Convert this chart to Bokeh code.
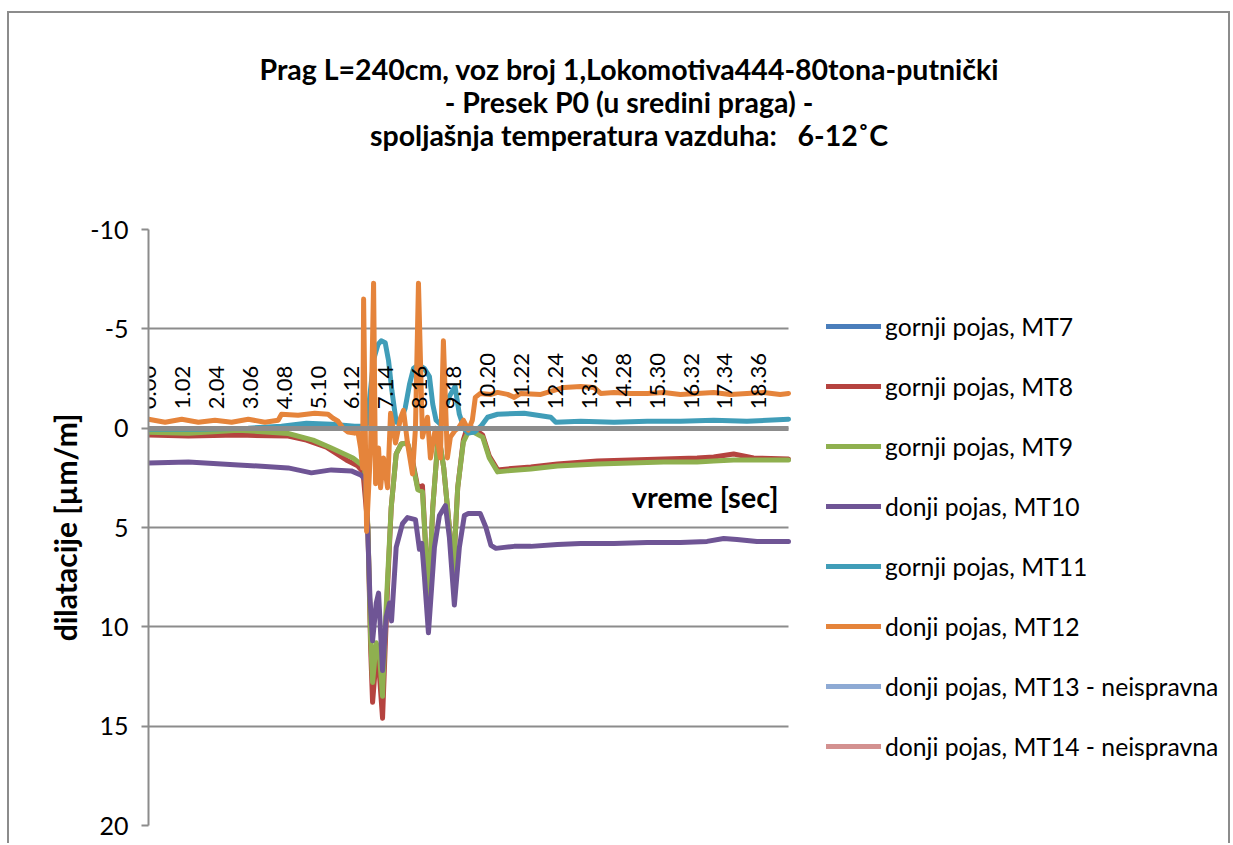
from bokeh.plotting import figure
from bokeh.layouts import column
from bokeh.models import (Range1d, LinearAxis, FixedTicker, NumeralTickFormatter,
                          Label, Legend, LegendItem, Grid, Div)
from bokeh.embed import file_html
from bokeh.resources import INLINE

NAN = float("nan")

# ---------------- data ----------------
x_ticks = [0.00, 1.02, 2.04, 3.06, 4.08, 5.10, 6.12, 7.14, 8.16, 9.18, 10.20,
           11.22, 12.24, 13.26, 14.28, 15.30, 16.32, 17.34, 18.36]
t_end = 19.25
y_ticks = [-10, -5, 0, 5, 10, 15, 20]
y_tick_labels = ["-10", "-5", "0", "5", "10", "15", "20"]

names = ["gornji pojas, MT7", "gornji pojas, MT8", "gornji pojas, MT9",
         "donji pojas, MT10", "gornji pojas, MT11", "donji pojas, MT12",
         "donji pojas, MT13 - neispravna", "donji pojas, MT14 - neispravna"]
colors = ["#4a7ebb", "#b5433f", "#8fb04f", "#6f5595", "#409db8", "#e5843b",
          "#8eaad4", "#d39190"]

# MT7, MT13, MT14: no valid readings (faulty gauges, nothing plotted)
t_mt7, v_mt7 = [0.0], [NAN]
t_mt13, v_mt13 = [0.0], [NAN]
t_mt14, v_mt14 = [0.0], [NAN]

t_mt8 = [0, 1.2, 2.7, 4.2, 4.75, 5.35, 5.95, 6.29, 6.45, 6.6, 6.68, 6.74, 6.85,
         6.95, 7.04, 7.12, 7.19, 7.3, 7.45, 7.6, 7.79, 7.95, 8.1, 8.24, 8.32,
         8.42, 8.55, 8.72, 8.88, 9.05, 9.17, 9.3, 9.47, 9.59, 9.77, 10.05,
         10.25, 10.5, 10.8, 11.5, 12.3, 13.5, 14.5, 15.5, 16.5, 17.0, 17.6,
         18.2, 19.25]
v_mt8 = [0.35, 0.4, 0.35, 0.4, 0.6, 0.95, 1.6, 1.9, 2.2, 5.0, 11.0, 13.8, 11.5,
         12.5, 14.6, 11.0, 8.0, 4.0, 1.3, 0.8, 0.75, 1.7, 3.0, 2.9, 5.5,
         9.0, 4.0, 0.3, 2.0, 5.0, 7.2, 3.0, 0.6, -0.05, 0.0, 0.35,
         1.4, 2.1, 2.05, 1.95, 1.8, 1.65, 1.6, 1.55, 1.5, 1.45, 1.3,
         1.5, 1.55]

t_mt9 = [0, 1.2, 2.7, 4.2, 4.95, 5.5, 6.15, 6.38, 6.5, 6.6, 6.68, 6.74, 6.85,
         6.95, 7.04, 7.12, 7.19, 7.3, 7.45, 7.6, 7.79, 7.95, 8.1, 8.24, 8.32,
         8.42, 8.55, 8.72, 8.88, 9.05, 9.17, 9.3, 9.47, 9.6, 9.77, 10.05,
         10.25, 10.5, 10.8, 11.5, 12.3, 13.5, 14.5, 15.5, 16.5, 17.0, 17.6,
         18.2, 19.25]
v_mt9 = [0.2, 0.25, 0.1, 0.27, 0.6, 1.0, 1.5, 1.8, 2.0, 5.0, 10.5, 12.8, 10.8,
         11.5, 13.5, 10.0, 7.6, 4.0, 1.3, 0.8, 0.75, 1.8, 3.1, 3.2, 5.5,
         9.0, 4.0, 0.25, 2.0, 5.0, 7.2, 3.0, 0.7, 0.25, 0.2, 0.45,
         1.5, 2.2, 2.15, 2.05, 1.9, 1.8, 1.75, 1.7, 1.7, 1.65, 1.6,
         1.6, 1.6]

t_mt10 = [0, 1.2, 2.7, 4.2, 4.9, 5.5, 6.1, 6.38, 6.53, 6.59, 6.66, 6.74, 6.85,
          6.92, 7.04, 7.15, 7.25, 7.31, 7.45, 7.64, 7.79, 8.03, 8.15, 8.22,
          8.3, 8.42, 8.6, 8.75, 8.93, 9.05, 9.2, 9.35, 9.5, 9.62, 9.98,
          10.15, 10.3, 10.45, 10.7, 11.0, 11.5, 12.3, 13.0, 14.0, 15.0, 16.0,
          16.8, 17.3, 17.7, 18.3, 19.25]
v_mt10 = [1.75, 1.7, 1.85, 2.0, 2.25, 2.1, 2.15, 2.35, 2.6, 5.0, 8.5, 10.7, 8.8,
          8.3, 12.2, 9.5, 8.8, 9.7, 6.0, 4.8, 4.5, 4.6, 6.1, 5.8,
          7.5, 10.3, 6.0, 4.4, 3.9, 5.5, 8.9, 6.0, 4.4, 4.3, 4.3,
          5.0, 5.9, 6.05, 6.0, 5.95, 5.95, 5.85, 5.8, 5.8, 5.75, 5.75,
          5.7, 5.55, 5.6, 5.7, 5.7]

t_mt11 = [0, 1.5, 3.0, 4.0, 4.75, 5.5, 6.2, 6.55, 6.65, 6.78, 6.9, 7.0, 7.12,
          7.22, 7.32, 7.45, 7.58, 7.72, 7.85, 7.97, 8.12, 8.3, 8.45, 8.55,
          8.65, 8.78, 8.9, 9.05, 9.22, 9.35, 9.5, 9.62, 9.8, 10.0, 10.2, 10.5,
          11.3, 12.1, 12.25, 13.0, 14.0, 15.0, 16.0, 17.0, 18.0, 19.25]
v_mt11 = [0.05, 0.05, 0.0, -0.1, -0.25, -0.2, -0.1, -0.1, -1.5, -3.5, -4.2, -4.4,
          -4.3, -3.4, -1.9, -0.3, -0.4, -1.0, -2.2, -3.0, -3.2, -3.0, -2.6,
          -1.2, -0.4, -0.2, -0.8, -1.6, -2.1, -0.7, 0.05, 0.25, 0.2, -0.1,
          -0.55, -0.7, -0.75, -0.55, -0.3, -0.35, -0.3, -0.35, -0.35, -0.4,
          -0.35, -0.45]

t_mt12 = [0, 0.5, 1.0, 1.5, 2.0, 2.5, 3.0, 3.5, 3.9, 4.0, 4.5, 5.0, 5.4, 5.55,
          5.7, 5.85, 6.0, 6.2, 6.3, 6.38, 6.44, 6.47, 6.56, 6.68, 6.77, 6.83,
          6.92, 6.98, 7.07, 7.19, 7.28, 7.43, 7.58, 7.67, 7.79, 7.94, 8.03,
          8.12, 8.24, 8.39, 8.48, 8.63, 8.78, 8.87, 8.99, 9.08, 9.23, 9.32,
          9.47, 9.62, 9.74, 9.83, 9.98, 10.3, 10.5, 10.8, 11.0, 11.2, 11.8,
          12.0, 12.5, 13.0, 13.4, 13.6, 14.0, 14.5, 15.0, 15.5, 16.0, 16.5,
          17.0, 17.5, 18.0, 18.5, 19.0, 19.25]
v_mt12 = [-0.45, -0.3, -0.45, -0.3, -0.4, -0.3, -0.45, -0.3, -0.4, -0.7, -0.65,
          -0.75, -0.7, -0.5, -0.35, 0.0, 0.2, 0.25, 0.2, 1.0, 2.0, -6.5, 5.2,
          1.0, -7.3, 2.8, 1.0, 3.0, 1.5, 3.0, -0.75, 0.75, -0.5, -0.9, 0.75,
          2.3, 0.0, -7.3, 0.45, -0.55, 1.5, 0.0, 1.5, -4.4, 1.5, 0.45, 0.1,
          0.0, -0.4, 0.1, -0.4, -1.55, -1.75, -1.7, -1.8, -1.7, -1.55, -1.75,
          -1.7, -1.8, -2.05, -2.1, -2.05, -1.75, -1.8, -1.75, -1.75, -1.8,
          -1.7, -1.75, -1.8, -1.7, -1.75, -1.8, -1.7, -1.75]

series = [(t_mt7, v_mt7), (t_mt8, v_mt8), (t_mt9, v_mt9), (t_mt10, v_mt10),
          (t_mt11, v_mt11), (t_mt12, v_mt12), (t_mt13, v_mt13), (t_mt14, v_mt14)]

title_lines = ["Prag L=240cm, voz broj 1,Lokomotiva444-80tona-putnički",
               "- Presek P0 (u sredini praga) -",
               "spoljašnja temperatura vazduha:&nbsp;&nbsp; 6-12˚C"]

# ---------------- layout constants ----------------
FONT = "Lato"
GRAY = "#8c8c8c"
CHART_W = 1219          # inner width of the chart area
PLOT_W = 640            # width of the plotting area
FRAME_W = 1080          # frame reaches to the right edge (legend lives inside)
TOP = 90
BOTTOM = 18
PLOT_H = 596
TITLE_H = 126

# ---------------- title ----------------
title_div = Div(
    text=("<div style=\"width:%dpx; height:%dpx; overflow:visible; "
          "box-sizing:border-box; padding-left:21px; padding-top:40px; "
          "text-align:center; font-family:Lato; font-weight:bold; "
          "font-size:28.5px; line-height:33px; color:black; "
          "white-space:nowrap;\">%s</div>")
         % (CHART_W, TITLE_H, "<br>".join(title_lines)),
    width=CHART_W, height=TITLE_H, margin=(0, 0, 0, 0),
    styles={"overflow": "visible"})

# ---------------- main chart ----------------
p = figure(width=CHART_W, height=TOP + PLOT_H + BOTTOM,
           x_range=Range1d(0, t_end * FRAME_W / PLOT_W),
           y_range=Range1d(20, -10), output_backend="svg",
           toolbar_location=None, x_axis_location=None,
           min_border_left=CHART_W - FRAME_W, min_border_right=0,
           min_border_top=TOP, min_border_bottom=BOTTOM)
p.outline_line_color = None
p.background_fill_color = "white"
p.border_fill_color = None

yax = p.yaxis[0]
yax.ticker = FixedTicker(ticks=y_ticks)
yax.major_label_overrides = dict(zip(y_ticks, y_tick_labels))
yax.major_tick_out = 7
yax.major_tick_in = 0
yax.minor_tick_line_color = None
yax.axis_line_color = GRAY
yax.axis_line_width = 2
yax.major_tick_line_color = GRAY
yax.major_tick_line_width = 2
yax.major_label_text_font = FONT
yax.major_label_text_font_size = "25px"
yax.major_label_text_color = "black"
yax.major_label_standoff = 13
yax.axis_label = "dilatacije [µm/m]"
yax.axis_label_text_font = FONT
yax.axis_label_text_font_style = "bold"
yax.axis_label_text_font_size = "30px"
yax.axis_label_text_color = "black"
yax.axis_label_standoff = 4

p.xgrid.visible = False
ygrid = p.ygrid[0]
ygrid.ticker = FixedTicker(ticks=y_ticks)
ygrid.grid_line_color = GRAY
ygrid.grid_line_width = 2
if "cross_bounds" in Grid.properties():
    ygrid.cross_bounds = (0, t_end)
else:
    ygrid.visible = False
    p.segment(x0=[0] * len(y_ticks), x1=[t_end] * len(y_ticks), y0=y_ticks,
              y1=y_ticks, line_color=GRAY, line_width=2, level="underlay")

# horizontal (time) axis crossing the value axis at 0; labels sit above it
xax = LinearAxis(fixed_location=0, bounds=(0, t_end),
                 ticker=FixedTicker(ticks=x_ticks),
                 formatter=NumeralTickFormatter(format="0.00"),
                 major_label_orientation="vertical",
                 major_tick_line_color=None, minor_tick_line_color=None,
                 major_tick_out=0, major_tick_in=0,
                 axis_line_color=GRAY, axis_line_width=5,
                 major_label_text_font=FONT, major_label_text_font_size="22px",
                 major_label_text_color="black", major_label_standoff=19)
p.add_layout(xax, "above")

items = []
for name, col, (t, v) in zip(names, colors, series):
    r = p.line(x=t, y=v, line_color=col, line_width=5, line_join="round",
               line_cap="round")
    items.append(LegendItem(label=name, renderers=[r]))

legend = Legend(items=items, location=(678, 64), border_line_color=None,
                background_fill_alpha=0, padding=0, margin=0, spacing=30,
                glyph_width=55, glyph_height=30, label_height=30,
                label_standoff=4, label_text_font=FONT,
                label_text_font_size="24.7px", label_text_color="black")
p.add_layout(legend)

p.add_layout(Label(x=18.95, y=3.45, text="vreme [sec]", text_align="right",
                   text_baseline="middle", text_font=FONT,
                   text_font_style="bold", text_font_size="29px",
                   text_color="black"))

layout = column(title_div, p, width=CHART_W + 4, spacing=0,
                styles={"border-left": "2px solid #8c8c8c",
                        "border-top": "2px solid #8c8c8c",
                        "border-right": "2px solid #8c8c8c",
                        "margin-left": "7px", "margin-top": "11px"})

open("out.html", "w").write(file_html(layout, INLINE))
